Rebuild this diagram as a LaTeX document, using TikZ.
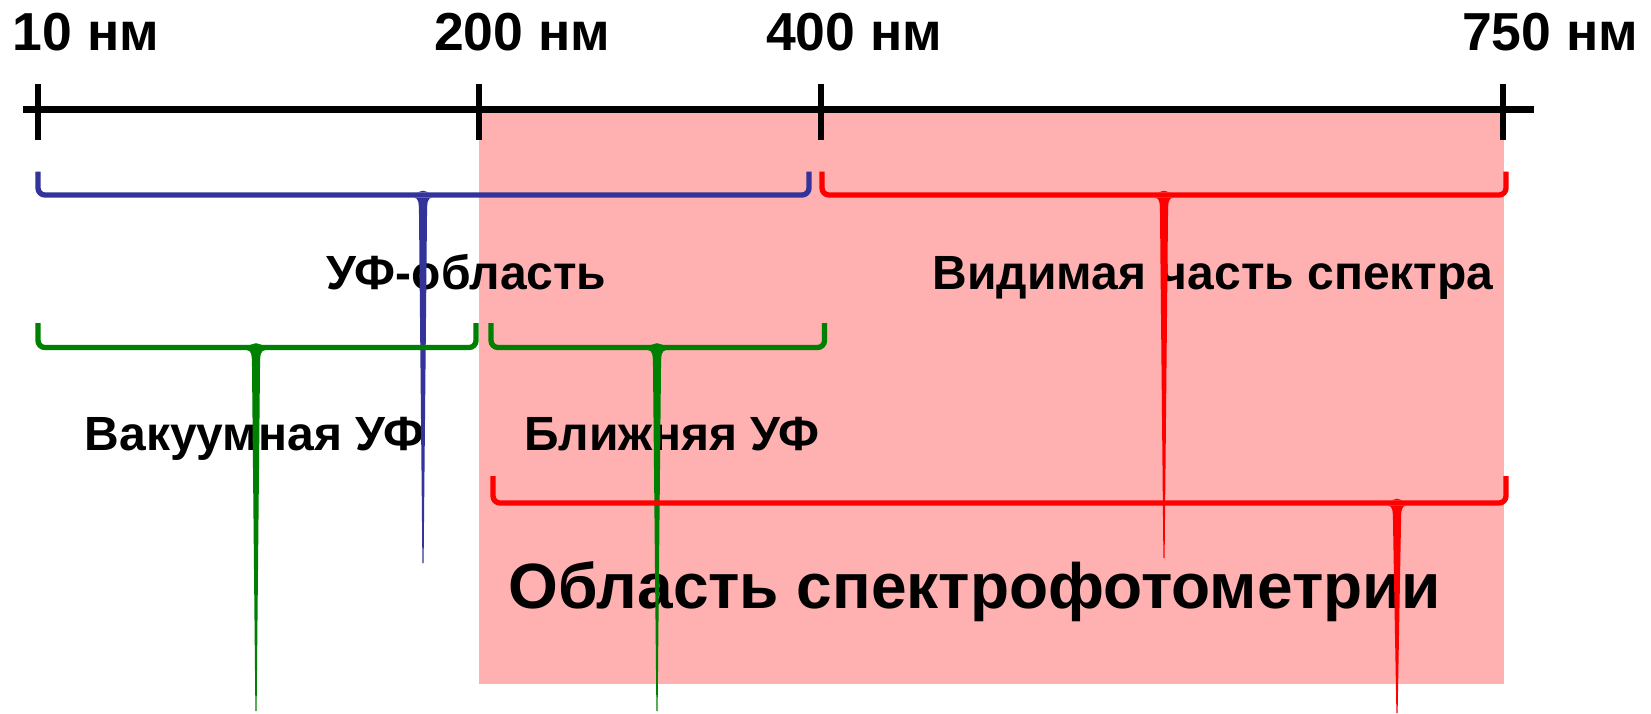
\documentclass[tikz,border=0pt]{standalone}
\usepackage{fontspec}
\setmainfont{Liberation Sans}
\definecolor{pinkbg}{RGB}{255,176,176}
\definecolor{bblue}{RGB}{51,51,153}
\definecolor{bgreen}{RGB}{0,128,0}
\definecolor{bred}{RGB}{255,0,0}
\newcommand\mybrace[7]{%
 \draw[#1, line width=5.3pt, rounded corners=7pt] (#2,#4) -- (#2,#5) -- (#3,#5) -- (#3,#4);
 \fill[#1] ({#6-9},{#5+2.6}) .. controls ({#6-4.5},{#5+3}) and ({#6-4},{#5+7}) .. ({#6-4},{#5+20}) -- ({#6-0.6},#7) -- ({#6+0.6},#7) -- ({#6+4},{#5+20}) .. controls ({#6+4},{#5+7}) and ({#6+4.5},{#5+3}) .. ({#6+9},{#5+2.6}) -- cycle;
 \fill[#1] ({#6-6},{#5-2.6}) -- (#6,{#5-4.3}) -- ({#6+6},{#5-2.6}) -- cycle;
}
\tikzset{
 axlab/.style={font=\fontsize{53.5}{60}\selectfont\bfseries, inner sep=0pt, anchor=base west},
 midlab/.style={font=\fontsize{48}{56}\selectfont\bfseries, inner sep=0pt, anchor=base},
 biglab/.style={font=\fontsize{64}{74}\selectfont\bfseries, inner sep=0pt, anchor=base},
 tick/.style={line width=6.3pt}
}
\begin{document}
\begin{tikzpicture}[x=1pt,y=-1pt]
\useasboundingbox (0,0) rectangle (1651,713);
\fill[pinkbg] (479,109.5) rectangle (1504,684);
% axis
\draw[tick] (23,109.5) -- (1534,109.5);
\foreach \x in {38,479,821,1503} \draw[tick] (\x,84) -- (\x,140);
\node[axlab] (l10) at (12.6,50.5) {10 нм};
\node[axlab] (l200) at (434,50.5) {200 нм};
\node[axlab] (l400) at (766,50.5) {400 нм};
\node[axlab] (l750) at (1462,50.5) {750 нм};
% labels
\node[midlab] (uv) at (466.5,289.6) {УФ-область};
\node[midlab] (vis) at (1213,289.6) {Видимая часть спектра};
\node[midlab] (vac) at (254.7,450.7) {Вакуумная УФ};
\node[midlab] (near) at (672,450.7) {Ближняя УФ};
\node[biglab] (spf) at (975,608.6) {Область спектрофотометрии};
% braces
\mybrace{bblue}{38}{809}{171.6}{195}{423}{563}
\mybrace{bred}{822}{1506}{171.6}{195}{1164}{558}
\mybrace{bgreen}{38}{476}{323}{347.5}{256}{711}
\mybrace{bgreen}{491}{824.5}{323}{347.5}{657}{711}
\mybrace{bred}{493}{1506}{476}{503}{1397}{713}
\end{tikzpicture}
\end{document}
